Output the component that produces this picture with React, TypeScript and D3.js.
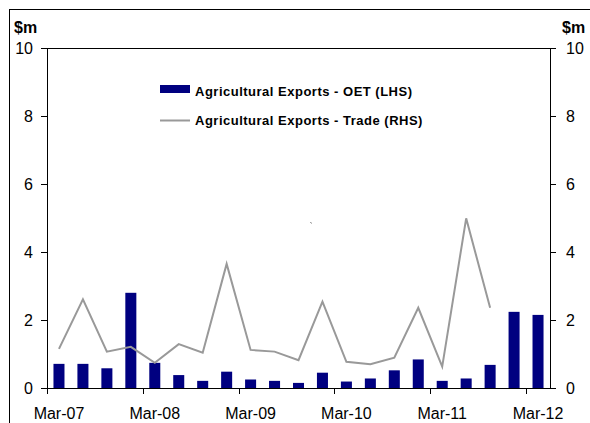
import React from "react";
import * as d3 from "d3";

const categories = [
  "Mar-07", "Jun-07", "Sep-07", "Dec-07",
  "Mar-08", "Jun-08", "Sep-08", "Dec-08",
  "Mar-09", "Jun-09", "Sep-09", "Dec-09",
  "Mar-10", "Jun-10", "Sep-10", "Dec-10",
  "Mar-11", "Jun-11", "Sep-11", "Dec-11",
  "Mar-12",
];
const oetValues = [0.71, 0.71, 0.58, 2.8, 0.74, 0.38, 0.21, 0.48, 0.25, 0.21, 0.15, 0.45, 0.19, 0.28, 0.52, 0.84, 0.21, 0.28, 0.68, 2.24, 2.15];
const tradeValues: (number | null)[] = [1.15, 2.61, 1.07, 1.21, 0.74, 1.29, 1.04, 3.65, 1.12, 1.07, 0.82, 2.54, 0.77, 0.7, 0.89, 2.36, 0.63, 4.99, 2.36, null, null];
const yTicks = [0, 2, 4, 6, 8, 10];
const xLabels = ["Mar-07", "Mar-08", "Mar-09", "Mar-10", "Mar-11", "Mar-12"];
const legendLabels = ["Agricultural Exports - OET (LHS)", "Agricultural Exports - Trade (RHS)"];

const W = 590, H = 423;
const left = 47, right = 550, top = 48, bottom = 388;
const FONT = "'Liberation Sans', Arial, sans-serif";
const NAVY = "#000080";
const GREY = "#999999";

export default function App() {
  const x = d3.scaleBand<string>().domain(categories).range([left, right]).paddingInner(0).paddingOuter(0);
  const y = d3.scaleLinear().domain([0, 10]).range([bottom, top]);
  const bw = x.bandwidth();
  const barW = bw * 0.46;
  const line = d3.line<number | null>()
    .defined((d) => d != null)
    .x((_, i) => (x(categories[i]) as number) + bw / 2)
    .y((d) => y(d as number));
  const tickCats = categories.filter((c) => xLabels.includes(c));

  return (
    <svg width={W} height={H} style={{ position: "absolute", left: 0, top: 0, background: "#fff" }} fontFamily={FONT}>
      {/* outer frame */}
      <rect x={9.5} y={9.5} width={W + 10} height={H + 10} fill="none" stroke="#000" strokeWidth={1} />
      {/* unit labels */}
      <text x={14} y={33} fontSize={16} fontWeight="bold" fill="#000">$m</text>
      <text x={562} y={33} fontSize={16} fontWeight="bold" fill="#000">$m</text>
      {/* plot top border */}
      <line x1={left} x2={right} y1={top + 0.5} y2={top + 0.5} stroke="#000" strokeWidth={1} />
      {/* bars */}
      {oetValues.map((v, i) => (
        <rect key={i} x={(x(categories[i]) as number) + (bw - barW) / 2} y={y(v)} width={barW} height={bottom - y(v)} fill={NAVY} />
      ))}
      {/* line */}
      <path d={line(tradeValues) || ""} fill="none" stroke={GREY} strokeWidth={2} strokeLinejoin="miter" />
      {/* stray mark */}
      <line x1={310.5} y1={222} x2={311.5} y2={223.5} stroke="#555" strokeWidth={0.8} />
      {/* left axis */}
      <line x1={left + 0.5} x2={left + 0.5} y1={top} y2={bottom + 6} stroke="#000" strokeWidth={1} />
      {yTicks.map((t) => (
        <g key={"l" + t}>
          <line x1={left - 6} x2={left} y1={Math.round(y(t)) + 0.5} y2={Math.round(y(t)) + 0.5} stroke="#000" />
          <text x={33} y={y(t)} dy="0.36em" textAnchor="end" fontSize={16} fill="#000">{t}</text>
        </g>
      ))}
      {/* right axis */}
      <line x1={right + 0.5} x2={right + 0.5} y1={top} y2={bottom} stroke="#000" strokeWidth={1} />
      {yTicks.map((t) => (
        <g key={"r" + t}>
          <line x1={right} x2={right + 6} y1={Math.round(y(t)) + 0.5} y2={Math.round(y(t)) + 0.5} stroke="#000" />
          <text x={566} y={y(t)} dy="0.36em" textAnchor="start" fontSize={16} fill="#000">{t}</text>
        </g>
      ))}
      {/* x axis */}
      <line x1={left - 6} x2={right + 6} y1={bottom + 0.5} y2={bottom + 0.5} stroke="#000" strokeWidth={1} />
      {tickCats.map((c) => {
        const xp = Math.round(x(c) as number) + 0.5;
        return <line key={"t" + c} x1={xp} x2={xp} y1={bottom} y2={bottom + 6} stroke="#000" />;
      })}
      {tickCats.map((c) => (
        <text key={"xl" + c} x={(x(c) as number) + bw / 2} y={419} textAnchor="middle" fontSize={16} fill="#000">{c}</text>
      ))}
      {/* legend */}
      <rect x={160} y={85} width={30} height={8} fill={NAVY} />
      <text x={195} y={96} fontSize={13} fontWeight="bold" letterSpacing={0.5} fill="#000">{legendLabels[0]}</text>
      <line x1={160} x2={190} y1={120.5} y2={120.5} stroke={GREY} strokeWidth={2} />
      <text x={195} y={125} fontSize={13} fontWeight="bold" letterSpacing={0.5} fill="#000">{legendLabels[1]}</text>
    </svg>
  );
}
